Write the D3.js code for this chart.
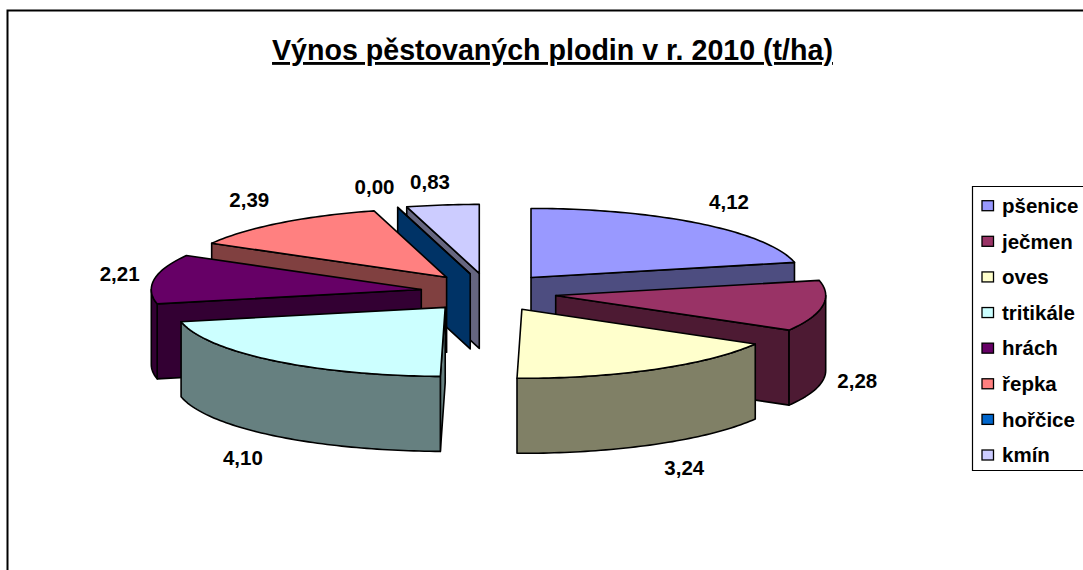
<!DOCTYPE html>
<html>
<head>
<meta charset="utf-8">
<script src="https://cdn.jsdelivr.net/npm/d3@7"></script>
<style>
  html, body { margin: 0; padding: 0; background: #fff; overflow: hidden; }
  text { font-family: "Liberation Sans", Arial, sans-serif; font-weight: bold; fill: #000; }
</style>
</head>
<body>
<svg id="chart" width="1083" height="570"></svg>
<script>
// Chart data
const titleText = "Výnos pěstovaných plodin v r. 2010 (t/ha)";
const crops = ["pšenice", "ječmen", "oves", "tritikále", "hrách", "řepka", "hořčice", "kmín"];
const yields = [4.12, 2.28, 3.24, 4.10, 2.21, 2.39, 0.00, 0.83];
const topColors = ["#9999FF", "#993366", "#FFFFCC", "#CCFFFF", "#660066", "#FF8080", "#0066CC", "#CCCCFF"];
const wallColors = ["#4D4D80", "#4D1A33", "#808066", "#668080", "#330033", "#804040", "#003366", "#666680"];

// Pie geometry
const cx = 488.5, cy = 292.5;
const rx = 270, ry = 69, depth = 75;
const explodeX = 68, explodeY = 19.3;
const labelNudge = [[0, 2], [-2, -11], [4, -1], [-1, -2], [2, 6], [-2, 1], [-4, 3], [1, 1]];

const svg = d3.select("#chart");

// Outer frame, runs off the right and bottom of the picture
svg.append("path")
  .attr("d", "M7.5,600V10.5H1100")
  .attr("fill", "none")
  .attr("stroke", "#000")
  .attr("stroke-width", 2);

svg.append("text")
  .attr("x", 552.5)
  .attr("y", 60)
  .attr("text-anchor", "middle")
  .attr("font-size", 28.6)
  .attr("text-decoration", "underline")
  .text(titleText);

const pie = d3.pie().sort(null).value(d => d.value);
const slices = pie(crops.map((name, i) => ({ name, value: yields[i], i })));

// Project an angle on the tilted pie, relative to a slice's own centre
const sx = a => rx * Math.sin(a);
const sy = a => -ry * Math.cos(a);
const line = d3.line();

function arcPoints(x0, y0, a0, a1, dy) {
  const n = Math.max(2, Math.ceil((a1 - a0) / 0.02));
  return d3.range(n + 1).map(k => {
    const a = a0 + (a1 - a0) * k / n;
    return [x0 + sx(a), y0 + sy(a) + dy];
  });
}

function drawSlice(s) {
  const i = s.data.i;
  const mid = (s.startAngle + s.endAngle) / 2;
  const x0 = cx + explodeX * Math.sin(mid);
  const y0 = cy - explodeY * Math.cos(mid);
  const a0 = s.startAngle, a1 = s.endAngle;
  const g = svg.append("g")
    .attr("stroke", "#000")
    .attr("stroke-width", 1.6)
    .attr("stroke-linejoin", "round");

  // Radial walls that face the viewer
  const wall = a => line([[x0, y0], [x0 + sx(a), y0 + sy(a)], [x0 + sx(a), y0 + sy(a) + depth], [x0, y0 + depth]]) + "Z";
  if (Math.sin(a0) < 0) g.append("path").attr("d", wall(a0)).attr("fill", wallColors[i]);
  if (Math.sin(a1) > 0) g.append("path").attr("d", wall(a1)).attr("fill", wallColors[i]);

  // Outer rim, only the front half of the ellipse
  const f0 = Math.max(a0, Math.PI / 2), f1 = Math.min(a1, Math.PI * 1.5);
  if (f1 > f0) {
    const rim = arcPoints(x0, y0, f0, f1, 0).concat(arcPoints(x0, y0, f0, f1, depth).reverse());
    g.append("path").attr("d", line(rim) + "Z").attr("fill", wallColors[i]);
  }

  // Top face
  const top = [[x0, y0]].concat(arcPoints(x0, y0, a0, a1, 0));
  g.append("path").attr("d", line(top) + "Z").attr("fill", topColors[i]);

  // Value label outside the slice
  const sm = Math.sin(mid), cm = Math.cos(mid);
  const lx = x0 + sx(mid) + Math.sign(sm) * 37 * Math.sqrt(Math.abs(sm)) + labelNudge[i][0];
  const ly = y0 + sy(mid) + (cm < 0 ? depth : 0) - Math.sign(cm) * 24 * Math.min(1, Math.abs(cm) * 3) + labelNudge[i][1];
  labels.push({ x: lx, y: ly, text: d3.format(".2f")(s.data.value).replace(".", ",") });
}

// Back slices first so the front ones cover them
const labels = [];
const paintOrder = [7, 6, 5, 4, 0, 1, 2, 3];
paintOrder.forEach(i => drawSlice(slices[i]));

svg.append("g").selectAll("text")
  .data(labels)
  .join("text")
  .attr("x", d => d.x)
  .attr("y", d => d.y)
  .attr("dy", "0.35em")
  .attr("text-anchor", "middle")
  .attr("font-size", 20.5)
  .text(d => d.text);

// Legend
const legendY = d3.scalePoint().domain(crops).range([205.7, 455]);
const legend = svg.append("g");
legend.append("path")
  .attr("d", "M1100,186.5H972.5V470.5H1100")
  .attr("fill", "#fff")
  .attr("stroke", "#000")
  .attr("stroke-width", 1.2);

const rows = legend.selectAll("g.row")
  .data(crops)
  .join("g")
  .attr("class", "row")
  .attr("transform", d => `translate(0,${legendY(d)})`);

rows.append("rect")
  .attr("x", 982)
  .attr("y", -5)
  .attr("width", 11.5)
  .attr("height", 10)
  .attr("fill", (d, i) => topColors[i])
  .attr("stroke", "#000")
  .attr("stroke-width", 1.3);

rows.append("text")
  .attr("x", 1002)
  .attr("dy", "0.35em")
  .attr("font-size", 20.5)
  .text(d => d);
</script>
</body>
</html>
